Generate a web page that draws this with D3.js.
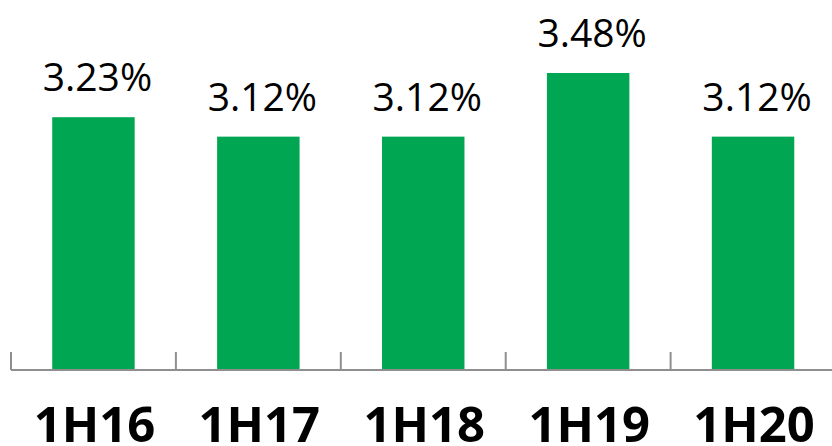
<!DOCTYPE html>
<html>
<head>
<meta charset="utf-8">
<script src="https://cdn.jsdelivr.net/npm/d3@7"></script>
<style>
  html, body { margin: 0; padding: 0; background: #fff; }
  svg { display: block; }
</style>
</head>
<body>
<svg id="chart" width="832" height="446"></svg>
<script>
const categories = ["1H16", "1H17", "1H18", "1H19", "1H20"];
const values = [3.23, 3.12, 3.12, 3.48, 3.12];
const valueLabels = ["3.23%", "3.12%", "3.12%", "3.48%", "3.12%"];

const svg = d3.select("#chart");
const baseY = 370;

const x = d3.scaleBand()
  .domain(categories)
  .range([11, 835.5])
  .paddingInner(0.5)
  .paddingOuter(0.25);

// full band (no padding) for tick positions
const xTick = d3.scaleBand().domain(categories).range([11, 835.5]).padding(0);

const y = d3.scaleLinear().domain([1.8, 3.48]).range([baseY, 73]);

// bars
svg.append("g").selectAll("rect")
  .data(categories)
  .join("rect")
  .attr("x", d => x(d))
  .attr("width", x.bandwidth())
  .attr("y", (d, i) => y(values[i]))
  .attr("height", (d, i) => baseY - y(values[i]))
  .attr("fill", "#00A651");

// axis
const axis = d3.axisBottom(xTick).tickSize(0).tickFormat("");
const gAxis = svg.append("g").attr("transform", `translate(0,${baseY})`).call(axis);
gAxis.select(".domain").remove();
gAxis.append("line")
  .attr("x1", 11).attr("x2", 835.5).attr("y1", 0).attr("y2", 0)
  .attr("stroke", "#8f8f8f").attr("stroke-width", 2);
const tickXs = categories.map(c => xTick(c)).concat([xTick(categories[categories.length - 1]) + xTick.step()]);
gAxis.selectAll(".tk")
  .data(tickXs)
  .join("line")
  .attr("class", "tk")
  .attr("x1", d => d).attr("x2", d => d)
  .attr("y1", -18).attr("y2", 0)
  .attr("stroke", "#8f8f8f").attr("stroke-width", 2);

// category labels
svg.append("g").selectAll("text")
  .data(categories)
  .join("text")
  .attr("x", d => x(d) + x.bandwidth() / 2 + 1)
  .attr("y", 442)
  .attr("text-anchor", "middle")
  .attr("font-family", "'Open Sans', 'Noto Sans', sans-serif")
  .attr("font-weight", "bold")
  .attr("font-size", 49)
  .attr("fill", "#000")
  .text(d => d);

// value labels
svg.append("g").selectAll("text")
  .data(categories)
  .join("text")
  .attr("x", d => x(d) + x.bandwidth() / 2 + 4)
  .attr("y", (d, i) => y(values[i]) - 26)
  .attr("text-anchor", "middle")
  .attr("font-family", "'Open Sans', 'Noto Sans', sans-serif")
  .attr("font-size", 39)
  .attr("fill", "#000")
  .text((d, i) => valueLabels[i]);
</script>
</body>
</html>
